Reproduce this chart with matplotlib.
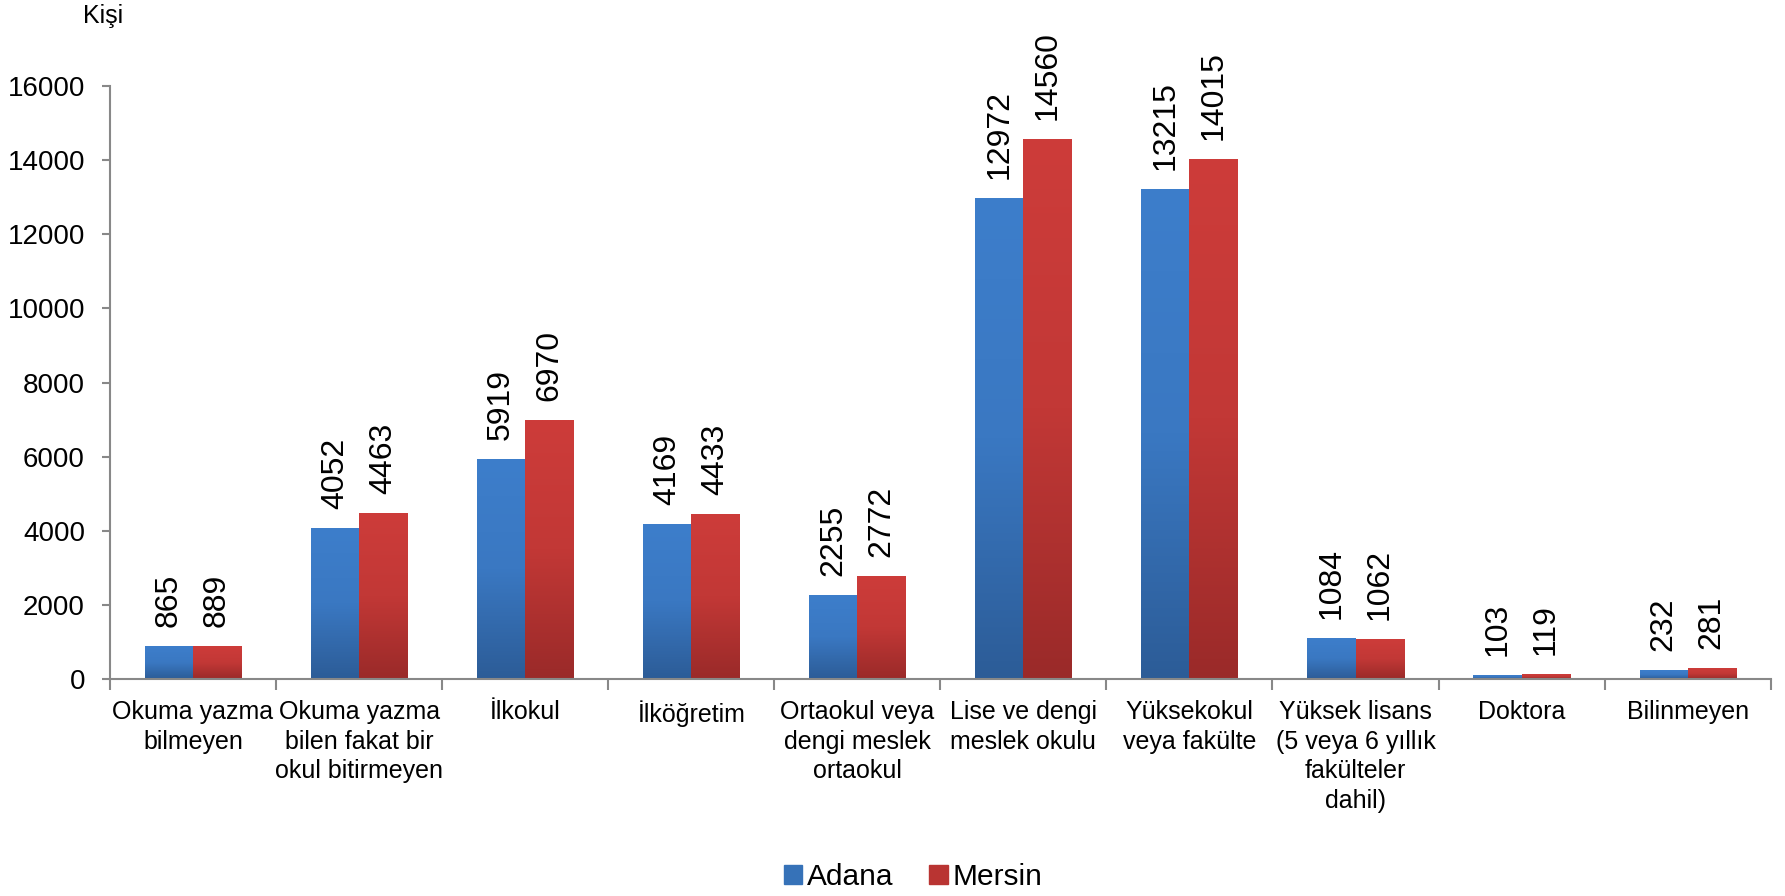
import numpy as np
import matplotlib
matplotlib.use("Agg")
import matplotlib.pyplot as plt
from matplotlib.colors import LinearSegmentedColormap

plt.rcParams['font.family'] = ['Liberation Sans', 'DejaVu Sans']

# data
categories = ["Okuma yazma\nbilmeyen", "Okuma yazma\nbilen fakat bir\nokul bitirmeyen",
              "İlkokul", "İlköğretim", "Ortaokul veya\ndengi meslek\nortaokul",
              "Lise ve dengi\nmeslek okulu", "Yüksekokul\nveya fakülte",
              "Yüksek lisans\n(5 veya 6 yıllık\nfakülteler\ndahil)", "Doktora", "Bilinmeyen"]
adana = [865, 4052, 5919, 4169, 2255, 12972, 13215, 1084, 103, 232]
mersin = [889, 4463, 6970, 4433, 2772, 14560, 14015, 1062, 119, 281]
series_names = ["Adana", "Mersin"]

blue_cm = LinearSegmentedColormap.from_list("b", ["#2C5C97", "#3A78C2", "#3D7ECB"])
red_cm = LinearSegmentedColormap.from_list("r", ["#9A2A29", "#C23836", "#CD3C3A"])

fig = plt.figure(figsize=(17.85, 8.96), dpi=100)
ax = fig.add_axes([0.0616, 0.2422, 0.9304, 0.6618])

x = np.arange(len(categories))
w = 0.29
grad = np.linspace(0, 1, 256).reshape(-1, 1)

for vals, off, cm in [(adana, -w / 2, blue_cm), (mersin, w / 2, red_cm)]:
    for xi, v in zip(x, vals):
        x0 = xi + off - w / 2
        ax.imshow(grad, extent=[x0, x0 + w, 0, v], origin="lower", aspect="auto",
                  cmap=cm, zorder=2, interpolation="bilinear")
        ax.annotate(str(v), (xi + off, v), xytext=(0, 14), textcoords="offset points",
                    rotation=90, ha="center", va="bottom", fontsize=23)

ax.set_xlim(-0.5, len(categories) - 0.5)
ax.set_ylim(0, 16000)
ax.set_yticks(range(0, 16001, 2000))
ax.tick_params(axis="y", labelsize=20, length=6, width=1.5, color="#888888", pad=12)

ax.set_xticks(x)
ax.set_xticklabels(categories, fontsize=18, linespacing=1.3, va="top")
ax.tick_params(axis="x", which="major", length=0, pad=15)
ax.set_xticks(np.arange(-0.5, len(categories), 1), minor=True)
ax.tick_params(axis="x", which="minor", length=8, width=1.5, color="#888888")

for s in ["top", "right"]:
    ax.spines[s].set_visible(False)
for s in ["left", "bottom"]:
    ax.spines[s].set_color("#888888")
    ax.spines[s].set_linewidth(1.5)

fig.text(83 / 1785, 1 - 16 / 896, "Kişi", fontsize=18, ha="left", va="center")

handles = [plt.Rectangle((0, 0), 1, 1, color=c) for c in ["#3672B8", "#B93432"]]
fig.legend(handles, series_names, loc="center", bbox_to_anchor=(913 / 1785, 1 - 877 / 896),
           ncol=2, frameon=False, fontsize=21.5, handlelength=0.62, handleheight=0.62,
           handletextpad=0.15, columnspacing=1.2)

fig.savefig("out.png", dpi=100)
